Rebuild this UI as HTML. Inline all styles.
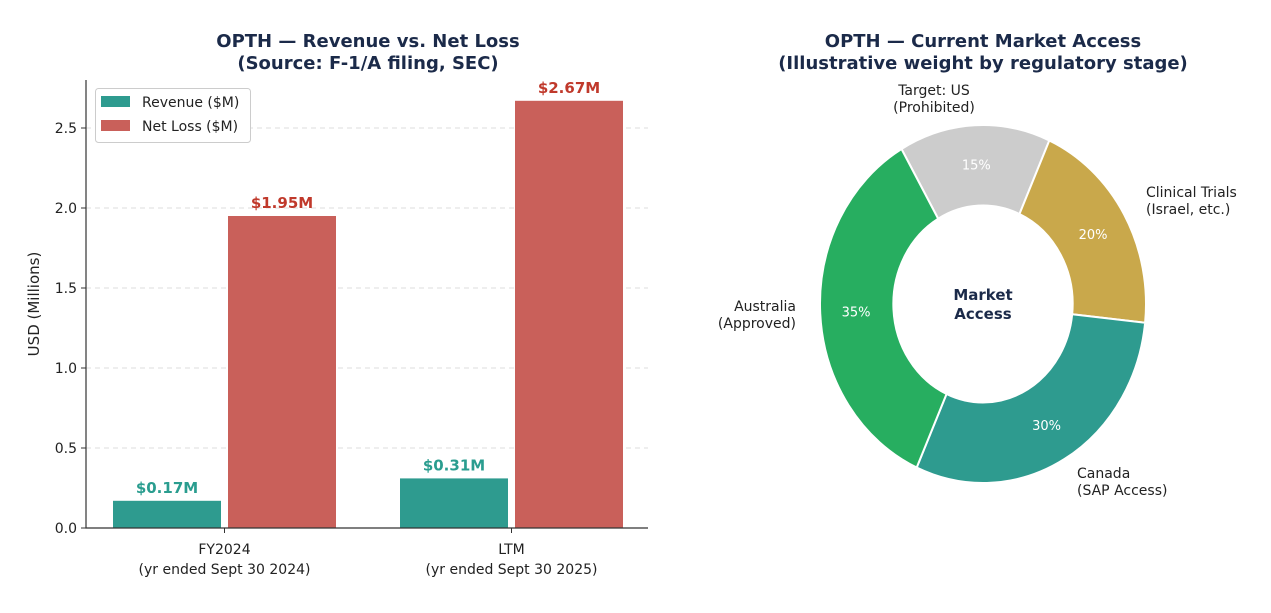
<!DOCTYPE html>
<html><head><meta charset="utf-8"><style>
body{margin:0;background:#fff;font-family:"DejaVu Sans","Liberation Sans",sans-serif}
svg{display:block}
</style></head><body>
<svg id="c" width="1271" height="613" viewBox="0 0 1271 613" xmlns="http://www.w3.org/2000/svg">
<text x="368" y="47" text-anchor="middle" font-size="18" font-weight="bold" fill="#1b2a49">OPTH — Revenue vs. Net Loss</text>
<text x="368" y="69" text-anchor="middle" font-size="18" font-weight="bold" fill="#1b2a49">(Source: F-1/A filing, SEC)</text>
<text x="983" y="47" text-anchor="middle" font-size="18" font-weight="bold" fill="#1b2a49">OPTH — Current Market Access</text>
<text x="983" y="69" text-anchor="middle" font-size="18" font-weight="bold" fill="#1b2a49">(Illustrative weight by regulatory stage)</text>
<g id="bars"></g>
<g id="donut"></g>
</svg>
<script>
const categories=["FY2024","LTM"];
const catSub=["(yr ended Sept 30 2024)","(yr ended Sept 30 2025)"];
const revenue=[0.17,0.31];
const netLoss=[1.95,2.67];
const yTicks=[0,0.5,1.0,1.5,2.0,2.5];
const yTickLabels=["0.0","0.5","1.0","1.5","2.0","2.5"];
const sliceLabels=["Target: US|(Prohibited)","Clinical Trials|(Israel, etc.)","Canada|(SAP Access)","Australia|(Approved)"];
const sliceValues=[15,20,30,35];
const sliceColors=["#cccccc","#c9a84b","#2e9b8f","#27ae60"];

const NS="http://www.w3.org/2000/svg";
function mk(p,t,a,txt){const e=document.createElementNS(NS,t);for(const k in a)e.setAttribute(k,a[k]);if(txt!=null)e.textContent=txt;p.appendChild(e);return e;}
const B=document.getElementById('bars');
const x0=86,x1=648,yb=528;
const yS=v=>yb-v*160;
const groupC=[224.5,511.5];
const bw=108,gap=7;
yTicks.forEach((t,i)=>{
  if(t>0){const g=mk(B,'line',{x1:x0,x2:x1,y1:yS(t),y2:yS(t),stroke:'#ddd','stroke-dasharray':'5,4'});
  }
  const tk=mk(B,'line',{x1:x0-5,x2:x0,y1:yS(t),y2:yS(t),stroke:'#333'});
  
  const l=mk(B,'text',{x:x0-9,y:yS(t)+5,'text-anchor':'end','font-size':14,fill:'#222'},yTickLabels[i]);
  
});
categories.forEach((c,i)=>{
  const cx=groupC[i];
  const r=mk(B,'rect',{x:cx-gap/2-bw,y:yS(revenue[i]),width:bw,height:yb-yS(revenue[i]),fill:'#2e9b8f'});
  
  const n=mk(B,'rect',{x:cx+gap/2,y:yS(netLoss[i]),width:bw,height:yb-yS(netLoss[i]),fill:'#c9605a'});
  
  const rl=mk(B,'text',{x:cx-gap/2-bw/2,y:yS(revenue[i])-8,'text-anchor':'middle','font-size':15,'font-weight':'bold',fill:'#2a9d8f'},'$'+revenue[i].toFixed(2)+'M');
  
  const nl=mk(B,'text',{x:cx+gap/2+bw/2,y:yS(netLoss[i])-8,'text-anchor':'middle','font-size':15,'font-weight':'bold',fill:'#c0392b'},'$'+netLoss[i].toFixed(2)+'M');
  
  const xt=mk(B,'line',{x1:cx,x2:cx,y1:yb,y2:yb+5,stroke:'#333'});
  
  const t1=mk(B,'text',{x:cx,y:yb+26,'text-anchor':'middle','font-size':14,fill:'#222'},c);
  
  const t2=mk(B,'text',{x:cx,y:yb+46,'text-anchor':'middle','font-size':14,fill:'#222'},catSub[i]);
  
});
const ax=mk(B,'path',{d:`M${x0} 80V${yb}H${x1}`,fill:'none',stroke:'#333','stroke-width':1.2});

const yt=mk(B,'text',{transform:'translate(39 304) rotate(-90)','text-anchor':'middle','font-size':15,fill:'#222'},'USD (Millions)');

const lg=mk(B,'g',{});
mk(lg,'rect',{x:95.5,y:88.5,width:155,height:54,rx:3,fill:'#fff',stroke:'#ccc'});
[['Revenue ($M)','#2e9b8f'],['Net Loss ($M)','#c9605a']].forEach((d,i)=>{
  const e=mk(lg,'g',{});
  mk(e,'rect',{x:101,y:96+i*24,width:29,height:11,fill:d[1]});
  mk(e,'text',{x:142,y:107+i*24,'font-size':14,fill:'#222'},d[0]);
});

const D=document.getElementById('donut');
const cx=983,cy=304,rx=163,ry=179,ir=0.55;
const tot=sliceValues.reduce((a,b)=>a+b,0);
const pt=(a,f)=>[cx+rx*f*Math.sin(a),cy-ry*f*Math.cos(a)];
let a=-30*Math.PI/180;
const labelPos=[[934,95,'middle'],[1146,197,'start'],[1077,478,'start'],[796,311,'end']];
sliceValues.forEach((v,i)=>{
  const da=v/tot*2*Math.PI,b=a+da,lg2=da>Math.PI?1:0;
  const [ax1,ay1]=pt(a,1),[bx1,by1]=pt(b,1),[bx2,by2]=pt(b,ir),[ax2,ay2]=pt(a,ir);
  const p=mk(D,'path',{d:`M${ax1} ${ay1}A${rx} ${ry} 0 ${lg2} 1 ${bx1} ${by1}L${bx2} ${by2}A${rx*ir} ${ry*ir} 0 ${lg2} 0 ${ax2} ${ay2}Z`,fill:sliceColors[i],stroke:'#fff','stroke-width':2});
  
  const m=(a+b)/2,[px,py]=pt(m,0.78);
  const pl=mk(D,'text',{x:px,y:py+5,'text-anchor':'middle','font-size':13,fill:'#fff'},v+'%');
  
  const parts=sliceLabels[i].split('|'),lp=labelPos[i];
  parts.forEach((s,j)=>{const t=mk(D,'text',{x:lp[0],y:lp[1]+j*17,'text-anchor':lp[2],'font-size':14,fill:'#222'},s);
    });
  a=b;
});
const c1=mk(D,'text',{x:cx,y:300,'text-anchor':'middle','font-size':15,'font-weight':'bold',fill:'#1b2a49'},'Market');

const c2=mk(D,'text',{x:cx,y:319,'text-anchor':'middle','font-size':15,'font-weight':'bold',fill:'#1b2a49'},'Access');

</script>
</body></html>
